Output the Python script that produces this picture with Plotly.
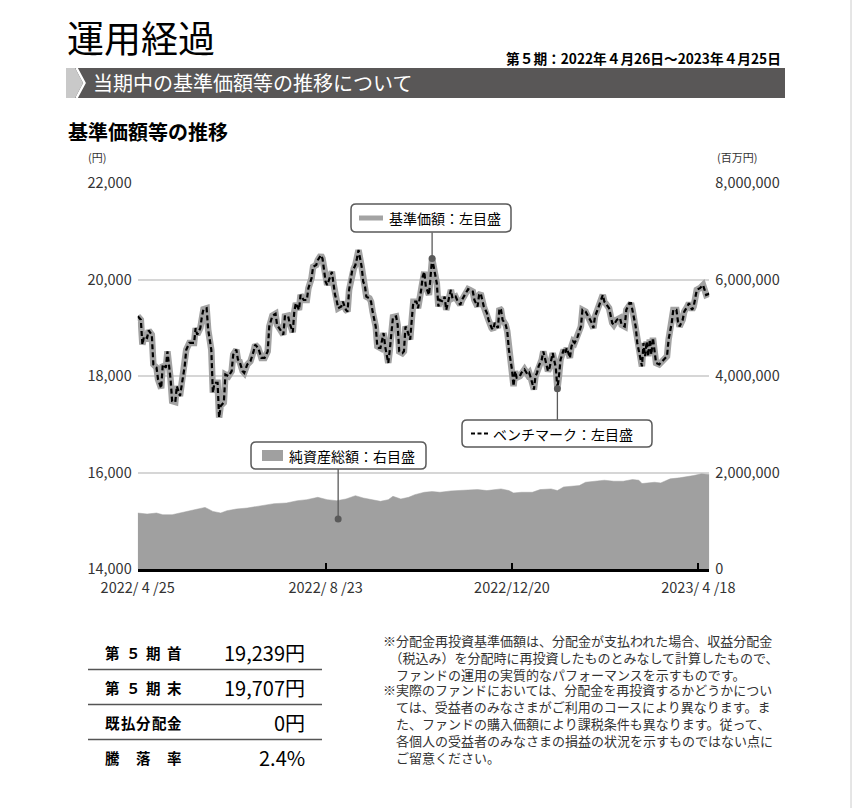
import plotly.graph_objects as go

# ---------------- data ----------------
nav_dates = [
    "2022-04-25", "2022-04-27", "2022-04-28", "2022-04-29", "2022-05-01", "2022-05-02", "2022-05-04", "2022-05-05",
    "2022-05-07", "2022-05-08", "2022-05-10", "2022-05-11", "2022-05-13", "2022-05-14", "2022-05-16", "2022-05-17",
    "2022-05-19", "2022-05-20", "2022-05-22", "2022-05-23", "2022-05-25", "2022-05-26", "2022-05-28", "2022-05-31",
    "2022-06-01", "2022-06-02", "2022-06-04", "2022-06-05", "2022-06-06", "2022-06-08", "2022-06-09", "2022-06-11",
    "2022-06-12", "2022-06-13", "2022-06-15", "2022-06-16", "2022-06-17", "2022-06-19", "2022-06-20", "2022-06-22",
    "2022-06-24", "2022-06-25", "2022-06-27", "2022-06-28", "2022-06-29", "2022-07-01", "2022-07-02", "2022-07-04",
    "2022-07-06", "2022-07-08", "2022-07-09", "2022-07-11", "2022-07-13", "2022-07-15", "2022-07-17", "2022-07-18",
    "2022-07-20", "2022-07-22", "2022-07-23", "2022-07-25", "2022-07-27", "2022-07-28", "2022-07-30", "2022-07-31",
    "2022-08-02", "2022-08-03", "2022-08-04", "2022-08-06", "2022-08-07", "2022-08-09", "2022-08-11", "2022-08-12",
    "2022-08-14", "2022-08-15", "2022-08-17", "2022-08-18", "2022-08-20", "2022-08-21", "2022-08-22", "2022-08-23",
    "2022-08-24", "2022-08-25", "2022-08-27", "2022-08-28", "2022-08-29", "2022-08-30", "2022-08-31", "2022-09-02",
    "2022-09-03", "2022-09-05", "2022-09-06", "2022-09-07", "2022-09-09", "2022-09-10", "2022-09-11", "2022-09-12",
    "2022-09-13", "2022-09-15", "2022-09-16", "2022-09-17", "2022-09-18", "2022-09-20", "2022-09-21", "2022-09-22",
    "2022-09-24", "2022-09-25", "2022-09-26", "2022-09-27", "2022-09-29", "2022-09-30", "2022-10-02", "2022-10-03",
    "2022-10-04", "2022-10-05", "2022-10-07", "2022-10-08", "2022-10-09", "2022-10-11", "2022-10-12", "2022-10-13",
    "2022-10-14", "2022-10-16", "2022-10-17", "2022-10-18", "2022-10-20", "2022-10-21", "2022-10-23", "2022-10-24",
    "2022-10-25", "2022-10-26", "2022-10-28", "2022-10-29", "2022-10-30", "2022-10-31", "2022-11-02", "2022-11-03",
    "2022-11-04", "2022-11-06", "2022-11-07", "2022-11-08", "2022-11-10", "2022-11-11", "2022-11-12", "2022-11-14",
    "2022-11-15", "2022-11-17", "2022-11-18", "2022-11-20", "2022-11-22", "2022-11-23", "2022-11-25", "2022-11-26",
    "2022-11-28", "2022-11-29", "2022-11-30", "2022-12-02", "2022-12-03", "2022-12-04", "2022-12-05", "2022-12-07",
    "2022-12-08", "2022-12-09", "2022-12-11", "2022-12-12", "2022-12-13", "2022-12-14", "2022-12-16", "2022-12-17",
    "2022-12-18", "2022-12-20", "2022-12-21", "2022-12-22", "2022-12-23", "2022-12-25", "2022-12-26", "2022-12-27",
    "2022-12-28", "2022-12-30", "2022-12-31", "2023-01-01", "2023-01-03", "2023-01-04", "2023-01-05", "2023-01-06",
    "2023-01-08", "2023-01-09", "2023-01-10", "2023-01-12", "2023-01-13", "2023-01-14", "2023-01-15", "2023-01-17",
    "2023-01-18", "2023-01-19", "2023-01-20", "2023-01-22", "2023-01-23", "2023-01-24", "2023-01-26", "2023-01-27",
    "2023-01-28", "2023-01-29", "2023-01-31", "2023-02-02", "2023-02-03", "2023-02-05", "2023-02-07", "2023-02-09",
    "2023-02-10", "2023-02-11", "2023-02-13", "2023-02-14", "2023-02-16", "2023-02-17", "2023-02-19", "2023-02-20",
    "2023-02-22", "2023-02-23", "2023-02-25", "2023-02-27", "2023-02-28", "2023-03-02", "2023-03-03", "2023-03-05",
    "2023-03-06", "2023-03-07", "2023-03-09", "2023-03-10", "2023-03-12", "2023-03-13", "2023-03-14", "2023-03-15",
    "2023-03-16", "2023-03-17", "2023-03-18", "2023-03-19", "2023-03-20", "2023-03-21", "2023-03-22", "2023-03-24",
    "2023-03-25", "2023-03-27", "2023-03-29", "2023-03-30", "2023-04-01", "2023-04-02", "2023-04-04", "2023-04-05",
    "2023-04-06", "2023-04-08", "2023-04-09", "2023-04-11", "2023-04-12", "2023-04-14", "2023-04-15", "2023-04-16",
    "2023-04-17", "2023-04-19", "2023-04-21", "2023-04-22", "2023-04-23", "2023-04-25",
]
nav_values = [
    19239, 19165, 18650, 18820, 18790, 18945, 18856, 18240, 18175, 17930, 17745, 18240, 18175, 18510, 17930, 17480,
    17460, 17790, 17585, 17790, 18200, 18545, 18685, 18685, 18995, 18856, 18995, 19235, 19385, 19405, 18960, 18545,
    17655, 17860, 17860, 17140, 17380, 17450, 18030, 17995, 18100, 18445, 18545, 18340, 18305, 18100, 18065, 18240,
    18305, 18510, 18650, 18580, 18375, 18375, 18510, 19025, 19250, 19290, 19060, 18960, 18856, 19235, 19250, 19100,
    18905, 19335, 19510, 19370, 19680, 19575, 19575, 19820, 20025, 20265, 20300, 20400, 20505, 20435, 20160, 19955,
    19885, 19990, 20160, 19920, 19680, 19575, 19405, 19440, 19540, 19370, 19335, 19785, 20195, 20230, 20300, 20435,
    20610, 20265, 19955, 19885, 19645, 19610, 19540, 19335, 19025, 18615, 18580, 18580, 18890, 18615, 18270, 18545,
    18960, 19220, 19235, 19060, 18510, 18475, 18510, 19025, 18960, 18755, 19165, 19540, 19540, 19405, 19785, 20060,
    20160, 19850, 19680, 20060, 20435, 20265, 19920, 19440, 19575, 19540, 19645, 19370, 19680, 19785, 19610, 19645,
    19575, 19475, 19575, 19680, 19800, 19785, 19750, 19575, 19440, 19680, 19715, 19440, 19370, 19305, 19165, 18995,
    18960, 19100, 18995, 19405, 19370, 19165, 19060, 18925, 18545, 18135, 17790, 18100, 17965, 17995, 18065, 18100,
    18135, 18030, 18065, 17965, 17720, 17995, 18065, 18200, 18340, 18510, 18375, 18100, 18170, 18340, 18475, 18170,
    17735, 17995, 18340, 18545, 18475, 18580, 18375, 18615, 18715, 18685, 18820, 19025, 19370, 19335, 19200, 19100,
    18995, 19235, 19405, 19510, 19680, 19540, 19440, 19405, 19100, 19060, 19165, 19200, 19060, 19025, 19370, 19510,
    19510, 19370, 19025, 18685, 18340, 18200, 18685, 18410, 18715, 18410, 18755, 18445, 18790, 18545, 18270, 18240,
    18270, 18340, 18410, 18755, 19100, 19370, 19370, 19130, 19025, 19165, 19335, 19440, 19510, 19370, 19440, 19610,
    19785, 19820, 19885, 19785, 19680, 19707,
]
# benchmark is visually identical to the NAV line
bench_values = list(nav_values)

asset_dates = [
    "2022-04-25", "2022-05-01", "2022-05-07", "2022-05-11", "2022-05-17", "2022-05-22", "2022-05-27", "2022-06-02",
    "2022-06-07", "2022-06-12", "2022-06-17", "2022-06-21", "2022-06-27", "2022-07-04", "2022-07-12", "2022-07-21",
    "2022-07-29", "2022-08-05", "2022-08-11", "2022-08-18", "2022-08-24", "2022-08-30", "2022-09-05", "2022-09-11",
    "2022-09-16", "2022-09-22", "2022-09-27", "2022-10-02", "2022-10-05", "2022-10-10", "2022-10-15", "2022-10-19",
    "2022-10-25", "2022-10-30", "2022-11-04", "2022-11-11", "2022-11-17", "2022-11-19", "2022-11-28", "2022-12-04",
    "2022-12-13", "2022-12-18", "2022-12-21", "2022-12-26", "2023-01-02", "2023-01-07", "2023-01-14", "2023-01-18",
    "2023-01-22", "2023-01-28", "2023-02-01", "2023-02-05", "2023-02-10", "2023-02-17", "2023-02-23", "2023-03-01",
    "2023-03-07", "2023-03-11", "2023-03-13", "2023-03-17", "2023-03-21", "2023-03-25", "2023-03-31", "2023-04-06",
    "2023-04-11", "2023-04-15", "2023-04-20", "2023-04-25",
]
asset_values = [
    1160000, 1139000, 1160000, 1125000, 1125000, 1160000, 1208000, 1243000,
    1277000, 1194000, 1160000, 1208000, 1243000, 1264000, 1312000, 1354000,
    1368000, 1416000, 1437000, 1486000, 1437000, 1416000, 1451000, 1520000,
    1472000, 1437000, 1402000, 1437000, 1506000, 1451000, 1486000, 1541000,
    1590000, 1604000, 1590000, 1618000, 1618000, 1632000, 1646000, 1625000,
    1660000, 1625000, 1577000, 1590000, 1590000, 1646000, 1660000, 1625000,
    1701000, 1715000, 1729000, 1798000, 1819000, 1840000, 1819000, 1819000,
    1854000, 1840000, 1771000, 1784000, 1798000, 1784000, 1868000, 1889000,
    1910000, 1937000, 1972000, 1958000,
]

x_tickvals = ["2022-04-25", "2022-08-23", "2022-12-20", "2023-04-18"]
x_ticktext = ["2022/ 4 /25", "2022/ 8 /23", "2022/12/20", "2023/ 4 /18"]
x_range = ["2022-04-25", "2023-04-25"]
y_left_range = [14000, 22000]
y_right_range = [0, 8000000]

# callout anchors (date / value of the pointed data)
nav_callout_date = "2022-10-30"
bench_callout_date = "2023-01-18"
asset_callout = ("2022-08-31", 1035000)

table_labels = ["第５期首", "第５期末", "既払分配金", "騰落率"]
table_values = ["19,239円", "19,707円", "0円", "2.4%"]

notes_para1 = [
    "※分配金再投資基準価額は、分配金が支払われた場合、収益分配金",
    "　（税込み）を分配時に再投資したものとみなして計算したもので、",
    "　ファンドの運用の実質的なパフォーマンスを示すものです。",
]
notes_para2 = [
    "※実際のファンドにおいては、分配金を再投資するかどうかについ",
    "　ては、受益者のみなさまがご利用のコースにより異なります。ま",
    "　た、ファンドの購入価額により課税条件も異なります。従って、",
    "　各個人の受益者のみなさまの損益の状況を示すものではない点に",
    "　ご留意ください。",
]

# ---------------- layout helpers ----------------
W, H = 855, 808
FONT = "Noto Sans CJK JP"
GRAY_LINE = "#a3a3a3"
AREA = "#a0a0a0"
BOXC = "#5a5a5a"


def px(x):
    return x / W


def py(y):
    return 1 - y / H


PLOT_L, PLOT_R, PLOT_T, PLOT_B = 137.7, 709.3, 183, 569

fig = go.Figure()

fig.add_trace(go.Scatter(
    x=asset_dates, y=asset_values, yaxis="y2", mode="lines",
    line=dict(color=AREA, width=0.5), fill="tozeroy", fillcolor=AREA,
    hoverinfo="skip", showlegend=False))
fig.add_trace(go.Scatter(
    x=nav_dates, y=nav_values, mode="lines",
    line=dict(color=GRAY_LINE, width=6.5), hoverinfo="skip", showlegend=False))
fig.add_trace(go.Scatter(
    x=nav_dates, y=bench_values, mode="lines",
    line=dict(color="black", width=2.2, dash="5px,3px"), hoverinfo="skip", showlegend=False))

nav_idx = nav_dates.index(nav_callout_date)
bench_idx = nav_dates.index(bench_callout_date)
fig.add_trace(go.Scatter(
    x=[nav_dates[nav_idx], nav_dates[bench_idx]],
    y=[nav_values[nav_idx], bench_values[bench_idx]], mode="markers",
    marker=dict(color=BOXC, size=7), hoverinfo="skip", showlegend=False))
fig.add_trace(go.Scatter(
    x=[asset_callout[0]], y=[asset_callout[1]], yaxis="y2", mode="markers",
    marker=dict(color=BOXC, size=7), hoverinfo="skip", showlegend=False))

shapes = []
annotations = []


def text(x, y, s, size, color="black", anchor="left", bold=False, yanchor="middle"):
    if bold:
        s = "<b>" + s + "</b>"
    annotations.append(dict(
        x=px(x), y=py(y), xref="paper", yref="paper", text=s, showarrow=False,
        xanchor=anchor, yanchor=yanchor, align="left",
        font=dict(family=FONT, size=size, color=color)))


def rrect(x0, y0, x1, y1, r, line=BOXC, fill="white", width=1.5):
    pts = (f"M {px(x0 + r)},{py(y0)} L {px(x1 - r)},{py(y0)} Q {px(x1)},{py(y0)} {px(x1)},{py(y0 + r)} "
           f"L {px(x1)},{py(y1 - r)} Q {px(x1)},{py(y1)} {px(x1 - r)},{py(y1)} "
           f"L {px(x0 + r)},{py(y1)} Q {px(x0)},{py(y1)} {px(x0)},{py(y1 - r)} "
           f"L {px(x0)},{py(y0 + r)} Q {px(x0)},{py(y0)} {px(x0 + r)},{py(y0)} Z")
    shapes.append(dict(type="path", path=pts, xref="paper", yref="paper",
                       line=dict(color=line, width=width), fillcolor=fill, layer="above"))


def pline(x0, y0, x1, y1, color, width, dash="solid"):
    shapes.append(dict(type="line", xref="paper", yref="paper", x0=px(x0), y0=py(y0), x1=px(x1), y1=py(y1),
                       line=dict(color=color, width=width, dash=dash), layer="above"))


# header
text(65, 37, "運用経過", 37)
text(783, 58, "第５期：2022年４月26日～2023年４月25日", 13.7, anchor="right", bold=True)
shapes.append(dict(type="rect", xref="paper", yref="paper", x0=px(66), x1=px(785), y0=py(98), y1=py(68),
                   fillcolor="#595757", line=dict(width=0), layer="above"))
shapes.append(dict(type="path", xref="paper", yref="paper",
                   path=f"M {px(66)},{py(68)} L {px(75)},{py(68)} L {px(83)},{py(83)} L {px(75)},{py(98)} L {px(66)},{py(98)} Z",
                   fillcolor="#c9c9c9", line=dict(width=0), layer="above"))
shapes.append(dict(type="path", xref="paper", yref="paper",
                   path=f"M {px(76.5)},{py(68)} L {px(84.5)},{py(83)} L {px(76.5)},{py(98)}",
                   line=dict(color="white", width=2.5), layer="above"))
text(91, 83, "当期中の基準価額等の推移について", 20, color="white")
text(66, 131, "基準価額等の推移", 20, bold=True)
text(97, 157, "(円)", 11, color="#333333", anchor="center")
text(737, 157, "(百万円)", 11, color="#333333", anchor="center")

# right page edge line
pline(851, 0, 851, H, "#cccccc", 1)

# callout boxes
rrect(351, 204, 511, 232, 5)
pline(359, 218, 383, 218, GRAY_LINE, 5)
text(387, 218, "基準価額：左目盛", 14)

rrect(462, 420, 652, 447, 5)
pline(471, 433.5, 489, 433.5, "black", 2, dash="4px,2.5px")
text(491, 433.5, "ベンチマーク：左目盛", 14)

rrect(251, 442, 426, 469, 5)
shapes.append(dict(type="rect", xref="paper", yref="paper", x0=px(262), x1=px(283), y0=py(461), y1=py(450),
                   fillcolor=AREA, line=dict(width=0), layer="above"))
text(287, 455.5, "純資産総額：右目盛", 14)

# connectors (pixel-sized, anchored at the data points)
shapes.append(dict(type="line", xref="x", yref="y", x0=nav_dates[nav_idx], x1=nav_dates[nav_idx],
                   ysizemode="pixel", yanchor=nav_values[nav_idx], y0=0, y1=26,
                   line=dict(color=BOXC, width=1.3), layer="above"))
shapes.append(dict(type="line", xref="x", yref="y", x0=nav_dates[bench_idx], x1=nav_dates[bench_idx],
                   ysizemode="pixel", yanchor=bench_values[bench_idx], y0=0, y1=-31,
                   line=dict(color=BOXC, width=1.3), layer="above"))
shapes.append(dict(type="line", xref="x", yref="y2", x0=asset_callout[0], x1=asset_callout[0],
                   ysizemode="pixel", yanchor=asset_callout[1], y0=0, y1=50,
                   line=dict(color=BOXC, width=1.3), layer="above"))

# summary table
row_y = [652, 687, 722, 757]
for i, (lab, val) in enumerate(zip(table_labels, table_values)):
    y = row_y[i]
    chars = list(lab)
    n = len(chars)
    x_first, x_last = 112.5, 174.5
    for j, ch in enumerate(chars):
        cx = x_first + (x_last - x_first) * j / (n - 1)
        text(cx, y, ch, 14.5, anchor="center", bold=True)
    text(307, y, val, 20, anchor="right")
for ly in [669.5, 704.5, 739.5]:
    pline(88, ly, 322, ly, "#555555", 1.5)

# notes (one block per paragraph)
text(381, 657.8, "<br>".join(notes_para1), 13, color="#333333")
text(381, 723.0, "<br>".join(notes_para2), 13, color="#333333")

fig.update_layout(
    width=W, height=H, margin=dict(l=0, r=0, t=0, b=0),
    paper_bgcolor="white", plot_bgcolor="white",
    font=dict(family=FONT, size=14, color="#333333"),
    xaxis=dict(domain=[px(PLOT_L), px(PLOT_R)], type="date", range=x_range,
               tickvals=x_tickvals, ticktext=x_ticktext, ticks="inside", ticklen=6, tickwidth=2,
               tickcolor="black", showline=True, linecolor="black", linewidth=3, showgrid=False,
               zeroline=False, automargin=False, ticklabelstandoff=4,
               tickfont=dict(family=FONT, size=14.5, color="#333333")),
    yaxis=dict(domain=[py(PLOT_B), py(PLOT_T)], range=y_left_range, dtick=2000, tickformat=",",
               showgrid=True, gridcolor="#d6d6d6", gridwidth=1.5, zeroline=False, showline=False,
               automargin=False, ticklabelstandoff=5,
               tickfont=dict(family=FONT, size=14.5, color="#333333")),
    yaxis2=dict(overlaying="y", side="right", range=y_right_range, dtick=2000000, tickformat=",",
                showgrid=False, zeroline=False, showline=False, automargin=False, ticklabelstandoff=5,
                tickfont=dict(family=FONT, size=14.5, color="#333333")),
    shapes=shapes, annotations=annotations, showlegend=False,
)

fig.write_html("out.html")
